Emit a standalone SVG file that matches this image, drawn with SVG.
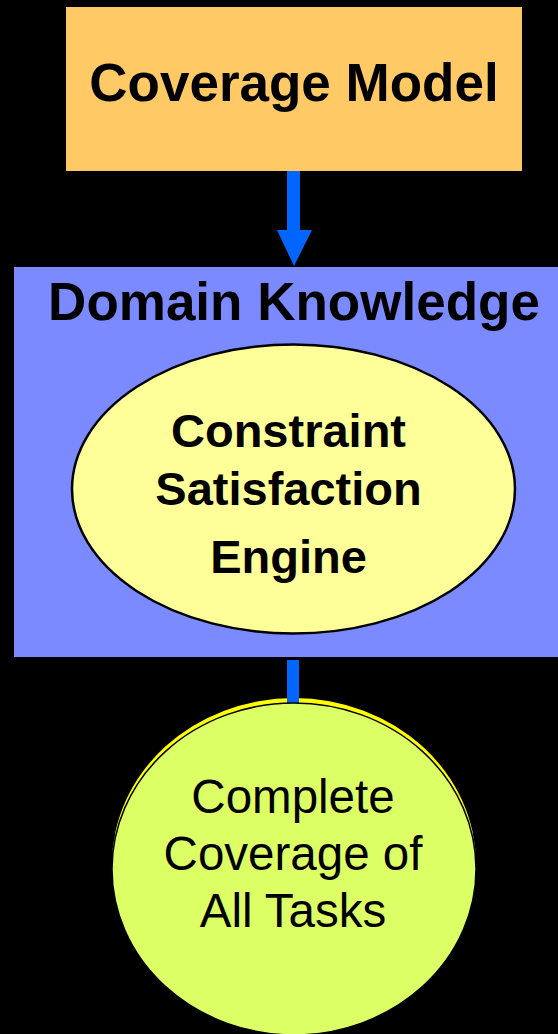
<svg xmlns="http://www.w3.org/2000/svg" width="558" height="1034" viewBox="0 0 558 1034">
  <style>
    .t { font-family: "Liberation Sans", Arial, sans-serif; fill: #000; text-anchor: middle; }
    .b { font-weight: bold; }
    .conn { fill: #0066FF; }
  </style>
  <rect width="558" height="1034" fill="#000"/>

  <g id="coverage-model">
    <rect x="66" y="7" width="456" height="164" fill="#FFC966"/>
    <text class="t b" x="294" y="101" font-size="53">Coverage Model</text>
  </g>

  <g id="domain-knowledge">
    <rect x="14" y="267" width="544" height="390" fill="#7B8BFF"/>
    <text class="t b" x="294" y="320" font-size="53">Domain Knowledge</text>
  </g>

  <g id="csp-engine">
    <ellipse cx="293.5" cy="489" rx="221.5" ry="144.5" fill="#FFFF99" stroke="#000" stroke-width="2.5"/>
    <text class="t b" x="288.5" y="447" font-size="47">Constraint</text>
    <text class="t b" x="288.5" y="505" font-size="47">Satisfaction</text>
    <text class="t b" x="288.5" y="573" font-size="47">Engine</text>
  </g>

  <g id="complete-coverage-rim">
    <ellipse cx="294" cy="864" rx="182" ry="166" fill="#FFFF00"/>
  </g>

  <g id="connectors">
    <path class="conn" d="M287 171 H300 V230 H312 L294 266 L277 230 H287 Z"/>
    <rect class="conn" x="287" y="660" width="12" height="43"/>
  </g>

  <g id="complete-coverage">
    <ellipse cx="294" cy="869" rx="182" ry="166" fill="#DDFF66" stroke="#000" stroke-width="1.5"/>
    <text class="t" x="293" y="813" font-size="47.5">Complete</text>
    <text class="t" x="293" y="870" font-size="47.5">Coverage of</text>
    <text class="t" x="293" y="927" font-size="47.5">All Tasks</text>
  </g>
</svg>
